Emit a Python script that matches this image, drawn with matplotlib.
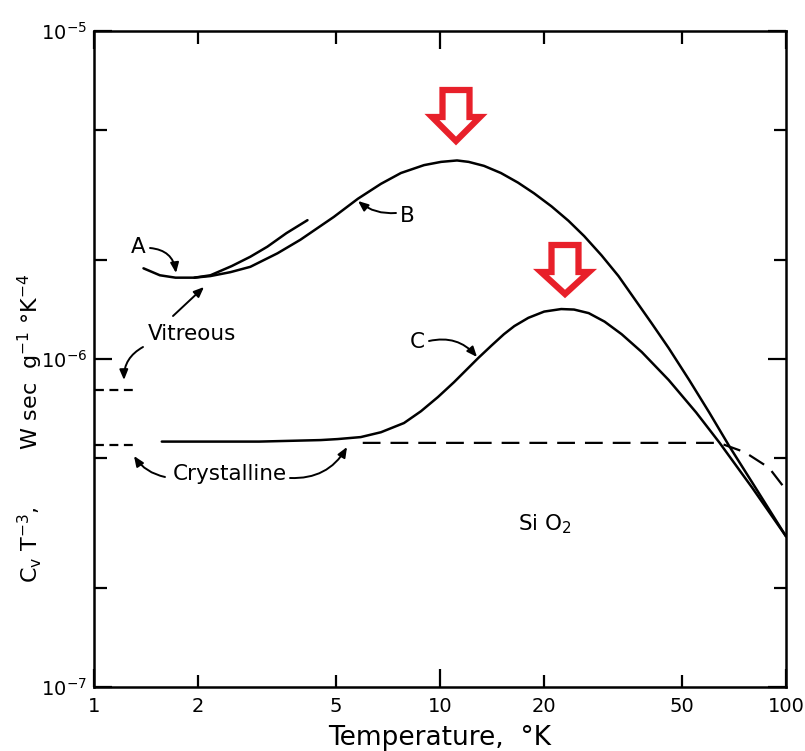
import matplotlib
matplotlib.use("Agg")
import matplotlib.pyplot as plt
from matplotlib.patches import Polygon
from matplotlib.ticker import FixedLocator, FixedFormatter, NullFormatter

# ---------------- data ----------------
T_A = [1.39, 1.55, 1.72, 1.95, 2.17, 2.5, 2.83, 3.17, 3.6, 4.14]
C_A = [1.89e-6, 1.80e-6, 1.77e-6, 1.77e-6, 1.80e-6, 1.92e-6, 2.05e-6, 2.20e-6, 2.42e-6, 2.65e-6]

T_B = [1.95, 2.17, 2.48, 2.83, 3.39, 3.95, 4.93, 5.79, 6.75, 7.71, 8.99, 10.07,
       11.2, 12.1, 13.4, 15.0, 16.8, 18.7, 21.0, 23.5, 26.1, 29.3, 32.8, 40.9,
       45.8, 52.5, 60.0, 68.8, 80.0, 100.0]
C_B = [1.77e-6, 1.79e-6, 1.84e-6, 1.91e-6, 2.10e-6, 2.31e-6, 2.71e-6, 3.08e-6,
       3.42e-6, 3.69e-6, 3.90e-6, 3.99e-6, 4.03e-6, 3.99e-6, 3.88e-6, 3.69e-6,
       3.45e-6, 3.20e-6, 2.92e-6, 2.64e-6, 2.37e-6, 2.07e-6, 1.79e-6, 1.285e-6,
       1.08e-6, 8.63e-7, 6.87e-7, 5.39e-7, 4.19e-7, 2.88e-7]

T_C = [1.57, 3.0, 4.52, 5.06, 5.90, 6.75, 7.87, 8.81, 9.87, 10.98, 12.9, 14.1,
       15.3, 16.4, 18.0, 20.0, 22.4, 24.4, 26.9, 29.9, 33.5, 38.3, 45.8, 55.0,
       64.3, 80.0, 100.0]
C_C = [5.6e-7, 5.6e-7, 5.66e-7, 5.70e-7, 5.78e-7, 5.98e-7, 6.38e-7, 6.93e-7,
       7.66e-7, 8.50e-7, 1.007e-6, 1.10e-6, 1.19e-6, 1.26e-6, 1.335e-6, 1.395e-6,
       1.42e-6, 1.415e-6, 1.38e-6, 1.30e-6, 1.19e-6, 1.05e-6, 8.63e-7, 6.87e-7,
       5.55e-7, 4.04e-7, 2.88e-7]

T_XTAL = [5.98, 20.0, 40.0, 64.0, 76.0, 89.3, 100.0]
C_XTAL = [5.55e-7, 5.55e-7, 5.55e-7, 5.55e-7, 5.2e-7, 4.66e-7, 3.99e-7]

T_MARK = [1.01, 1.30]
C_VIT_MARK = [8.04e-7, 8.04e-7]
C_XTAL_MARK = [5.47e-7, 5.47e-7]

x_major = [1, 10, 100]
x_major_labels = ["1", "10", "100"]
x_minor = [2, 5, 20, 50]
x_minor_labels = ["2", "5", "20", "50"]
y_major = [1e-7, 1e-6, 1e-5]
y_major_labels = [r"$10^{-7}$", r"$10^{-6}$", r"$10^{-5}$"]
y_minor = [2e-7, 5e-7, 2e-6, 5e-6]

# ---------------- figure ----------------
W, H = 805, 751
fig = plt.figure(figsize=(W / 100, H / 100), dpi=100)
L, R, TOP, BOT = 94, 786, 31, 687
ax = fig.add_axes([L / W, 1 - BOT / H, (R - L) / W, (BOT - TOP) / H])

def af(px, py):
    """pixel position -> axes fraction"""
    return ((px - L) / (R - L), 1 - (py - TOP) / (BOT - TOP))

ax.set_xscale("log")
ax.set_yscale("log")
ax.set_xlim(1, 100)
ax.set_ylim(1e-7, 1e-5)

lw = 1.8
for T, C in ((T_A, C_A), (T_B, C_B), (T_C, C_C)):
    ax.plot(T, C, color="black", lw=lw, solid_capstyle="round", solid_joinstyle="round")
ax.plot(T_XTAL, C_XTAL, color="black", lw=1.6, dashes=(8, 4.5))
ax.plot(T_MARK, C_VIT_MARK, color="black", lw=1.6, dashes=(4, 2.5), clip_on=False)
ax.plot(T_MARK, C_XTAL_MARK, color="black", lw=1.6, dashes=(4, 2.5), clip_on=False)

# ticks
ax.xaxis.set_major_locator(FixedLocator(x_major))
ax.xaxis.set_major_formatter(FixedFormatter(x_major_labels))
ax.xaxis.set_minor_locator(FixedLocator(x_minor))
ax.xaxis.set_minor_formatter(FixedFormatter(x_minor_labels))
ax.yaxis.set_major_locator(FixedLocator(y_major))
ax.yaxis.set_major_formatter(FixedFormatter(y_major_labels))
ax.yaxis.set_minor_locator(FixedLocator(y_minor))
ax.yaxis.set_minor_formatter(NullFormatter())

ax.tick_params(which="both", direction="in", top=True, right=True, width=1.6, colors="black")
ax.tick_params(which="major", length=13)
ax.tick_params(which="minor", length=9)
ax.tick_params(axis="x", which="both", labelsize=14, pad=7)
ax.tick_params(axis="y", which="both", labelsize=14, pad=5)
for s in ax.spines.values():
    s.set_linewidth(1.8)

# axis labels
ax.text(*af(440, 738), "Temperature,  °K", transform=ax.transAxes,
        ha="center", va="center", fontsize=19)
ax.text(*af(30, 428), r"C$_\mathrm{v}$ T$^{-3}$,        W sec  g$^{-1}$ °K$^{-4}$",
        transform=ax.transAxes, ha="center", va="center", rotation=90, fontsize=16)

# in-plot labels
fs = 15.5
ax.text(*af(138, 247), "A", transform=ax.transAxes, ha="center", va="center", fontsize=fs)
ax.text(*af(407, 216), "B", transform=ax.transAxes, ha="center", va="center", fontsize=fs)
ax.text(*af(417, 342), "C", transform=ax.transAxes, ha="center", va="center", fontsize=fs)
ax.text(*af(192, 334), "Vitreous", transform=ax.transAxes, ha="center", va="center", fontsize=fs)
ax.text(*af(230, 474), "Crystalline", transform=ax.transAxes, ha="center", va="center", fontsize=fs)
ax.text(*af(545, 524), r"Si O$_2$", transform=ax.transAxes, ha="center", va="center", fontsize=fs)

# pointer arrows
arrows = [
    ((150, 248), (176, 273), -0.4),
    ((396, 213), (358, 201), -0.2),
    ((429, 341), (477, 357), -0.3),
    ((173, 316), (204, 287), 0.0),
    ((143, 347), (124, 380), 0.3),
    ((165, 477), (134, 456), -0.2),
    ((290, 478), (347, 447), 0.3),
]
for (p0, p1, rad) in arrows:
    ax.annotate("", xy=af(*p1), xycoords="axes fraction",
                xytext=af(*p0), textcoords="axes fraction",
                arrowprops=dict(arrowstyle="-|>,head_length=0.6,head_width=0.25",
                                connectionstyle=f"arc3,rad={rad}",
                                color="black", lw=1.4, shrinkA=0, shrinkB=0))

# red hollow arrows
red = "#e8202a"
def red_arrow(cx, top, base, tip, hw_shaft, hw_head):
    pts = [(cx - hw_shaft, top), (cx + hw_shaft, top), (cx + hw_shaft, base),
           (cx + hw_head, base), (cx, tip), (cx - hw_head, base), (cx - hw_shaft, base)]
    poly = Polygon([af(x, y) for x, y in pts], closed=True, transform=ax.transAxes,
                   facecolor="white", edgecolor=red, lw=4.5, joinstyle="miter",
                   clip_on=False, zorder=5)
    ax.add_patch(poly)

red_arrow(456, 90, 117, 141, 13.5, 24)
red_arrow(565, 245, 272, 294, 13.5, 24)

fig.savefig("out.png", dpi=100)
